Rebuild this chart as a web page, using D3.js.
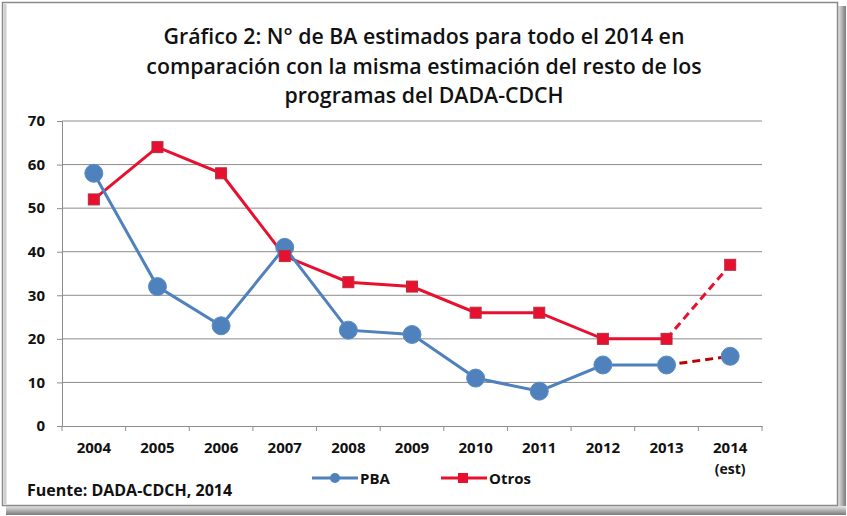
<!DOCTYPE html>
<html>
<head>
<meta charset="utf-8">
<script src="https://cdn.jsdelivr.net/npm/d3@7"></script>
<style>
  body { margin: 0; background: #fff; }
  text { font-family: "Open Sans", "DejaVu Sans", sans-serif; }
</style>
</head>
<body>
<div id="chart"></div>
<script>
var years = ['2004', '2005', '2006', '2007', '2008', '2009', '2010', '2011', '2012', '2013', '2014'];
var pba = [58, 32, 23, 41, 22, 21, 11, 8, 14, 14, 16];
var otros = [52, 64, 58, 39, 33, 32, 26, 26, 20, 20, 37];
var yTicks = [0, 10, 20, 30, 40, 50, 60, 70];
var titleLines = ['Gráfico 2: N° de BA estimados para todo el 2014 en',
                  'comparación con la misma estimación del resto de los',
                  'programas del DADA-CDCH'];

var W = 847, H = 516;
var blue = '#4f81bd', red = '#e8102f', darkRed = '#c00000';

var svg = d3.select('#chart').append('svg').attr('width', W).attr('height', H);

// frame with shadow on right/bottom
var defs = svg.append('defs');
var gr = defs.append('linearGradient').attr('id', 'shR').attr('x1', 0).attr('x2', 1).attr('y1', 0).attr('y2', 0);
gr.append('stop').attr('offset', 0).attr('stop-color', '#e6e6e6');
gr.append('stop').attr('offset', 1).attr('stop-color', '#7a7a7a');
var gb = defs.append('linearGradient').attr('id', 'shB').attr('x1', 0).attr('x2', 0).attr('y1', 0).attr('y2', 1);
gb.append('stop').attr('offset', 0).attr('stop-color', '#e6e6e6');
gb.append('stop').attr('offset', 1).attr('stop-color', '#7a7a7a');
svg.append('rect').attr('x', 838).attr('y', 6).attr('width', 8).attr('height', 508).attr('fill', 'url(#shR)');
svg.append('rect').attr('x', 6).attr('y', 506).attr('width', 840).attr('height', 9).attr('fill', 'url(#shB)');
svg.append('rect').attr('x', 2.5).attr('y', 2.5).attr('width', 835).attr('height', 503)
  .attr('fill', '#fff').attr('stroke', '#8a8a8a').attr('stroke-width', 1.5);
svg.append('line').attr('x1', 5).attr('x2', 5).attr('y1', 4).attr('y2', 504).attr('stroke', '#d0d0d0').attr('stroke-width', 3);

// title
svg.append('g').selectAll('text').data(titleLines).enter().append('text')
  .attr('x', 424).attr('y', function(d, i) { return 44 + i * 29.5; })
  .attr('text-anchor', 'middle').attr('font-size', 21.3).attr('font-weight', 600).attr('fill', '#111')
  .text(function(d) { return d; });

var x = d3.scaleBand().domain(years).range([62, 762]);
var y = d3.scaleLinear().domain([0, 70]).range([426, 121]);

// gridlines
svg.append('g').selectAll('line').data(yTicks.slice(1)).enter().append('line')
  .attr('x1', 62).attr('x2', 762).attr('y1', function(d) { return y(d); }).attr('y2', function(d) { return y(d); })
  .attr('stroke', '#8c8c8c').attr('stroke-width', 1);

// y axis
var yAx = svg.append('g').attr('transform', 'translate(62,0)')
  .call(d3.axisLeft(y).tickValues(yTicks).tickSize(5).tickPadding(12));
yAx.select('.domain').attr('stroke', '#8c8c8c');
yAx.selectAll('line').attr('stroke', '#8c8c8c');
yAx.selectAll('text').attr('font-size', 15).attr('font-weight', 700).attr('fill', '#111')
  .style('font-family', '"Open Sans", sans-serif');

// x axis
var xAx = svg.append('g').attr('transform', 'translate(0,426)')
  .call(d3.axisBottom(x).tickSize(0).tickPadding(16));
xAx.select('.domain').attr('stroke', '#8c8c8c');
xAx.selectAll('text').attr('font-size', 15).attr('font-weight', 700).attr('fill', '#111')
  .style('font-family', '"Open Sans", sans-serif');
svg.append('g').selectAll('line').data(years.concat(['end'])).enter().append('line')
  .attr('x1', function(d, i) { return 62 + i * x.bandwidth(); })
  .attr('x2', function(d, i) { return 62 + i * x.bandwidth(); })
  .attr('y1', 426).attr('y2', 431).attr('stroke', '#8c8c8c');
svg.append('text').attr('x', x('2014') + x.bandwidth() / 2).attr('y', 474)
  .attr('text-anchor', 'middle').attr('font-size', 14).attr('font-weight', 700).attr('fill', '#111').text('(est)');

var cx = function(d, i) { return x(years[i]) + x.bandwidth() / 2; };
var line = d3.line().x(function(d) { return d[0]; }).y(function(d) { return d[1]; });
var pts = function(arr) { return arr.map(function(v, i) { return [cx(v, i), y(v)]; }); };

var pP = pts(pba), pO = pts(otros);
// solid parts
svg.append('path').attr('d', line(pO.slice(0, 10))).attr('fill', 'none').attr('stroke', red).attr('stroke-width', 3);
svg.append('path').attr('d', line(pP.slice(0, 10))).attr('fill', 'none').attr('stroke', blue).attr('stroke-width', 3);
// estimated dashed parts
svg.append('path').attr('d', line(pO.slice(9))).attr('fill', 'none').attr('stroke', red).attr('stroke-width', 3).attr('stroke-dasharray', '8,5');
svg.append('path').attr('d', line(pP.slice(9))).attr('fill', 'none').attr('stroke', darkRed).attr('stroke-width', 3).attr('stroke-dasharray', '8,5');

svg.append('g').selectAll('circle').data(pba).enter().append('circle')
  .attr('cx', cx).attr('cy', function(d) { return y(d); }).attr('r', 9)
  .attr('fill', blue).attr('stroke', '#5b8cc6').attr('stroke-width', 1);
svg.append('g').selectAll('rect').data(otros).enter().append('rect')
  .attr('x', function(d, i) { return cx(d, i) - 5.5; }).attr('y', function(d) { return y(d) - 5.5; })
  .attr('width', 11).attr('height', 11).attr('fill', red).attr('stroke', '#b5303f').attr('stroke-width', 1);

// legend
var lg = svg.append('g');
lg.append('line').attr('x1', 312).attr('x2', 358).attr('y1', 478).attr('y2', 478).attr('stroke', blue).attr('stroke-width', 3);
lg.append('circle').attr('cx', 335).attr('cy', 478).attr('r', 5).attr('fill', blue);
lg.append('text').attr('x', 360).attr('y', 484).attr('font-size', 15).attr('font-weight', 700).attr('fill', '#111').text('PBA');
lg.append('line').attr('x1', 441).attr('x2', 487).attr('y1', 478).attr('y2', 478).attr('stroke', red).attr('stroke-width', 3);
lg.append('rect').attr('x', 458).attr('y', 473).attr('width', 10).attr('height', 10).attr('fill', red);
lg.append('text').attr('x', 489).attr('y', 484).attr('font-size', 15).attr('font-weight', 700).attr('fill', '#111').text('Otros');

svg.append('text').attr('x', 27).attr('y', 496).attr('font-size', 16).attr('font-weight', 700).attr('fill', '#111')
  .text('Fuente: DADA-CDCH, 2014');
</script>
</body>
</html>
